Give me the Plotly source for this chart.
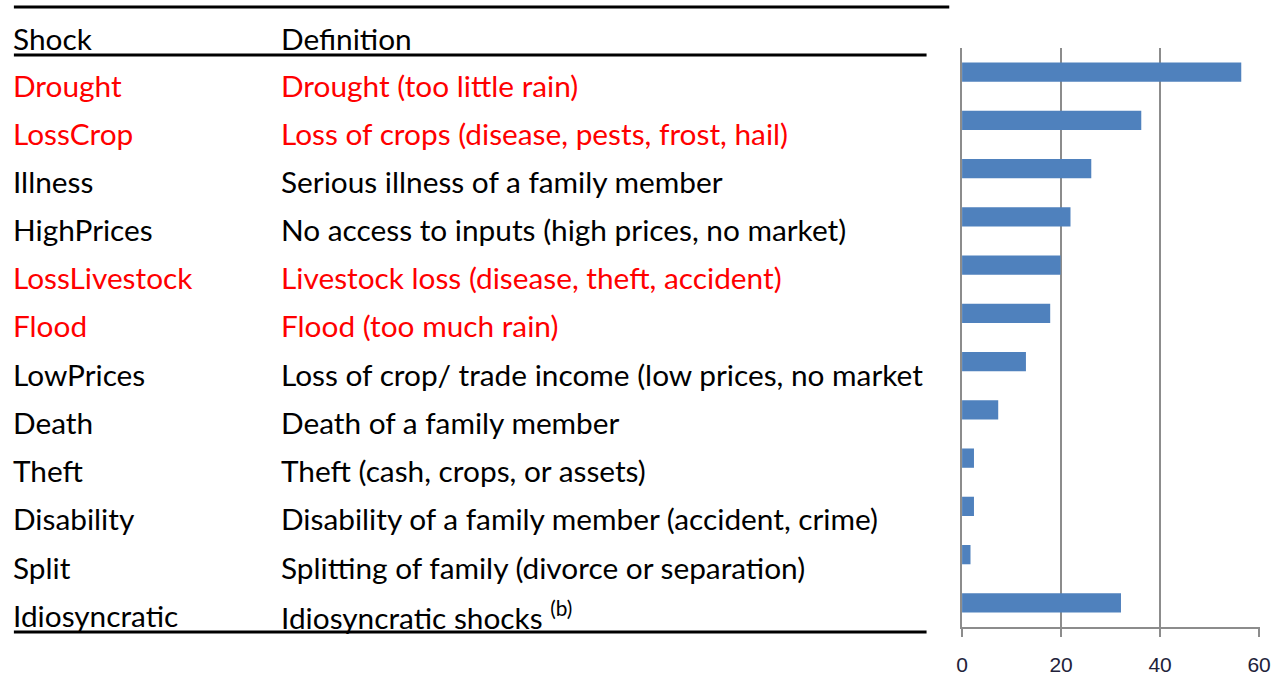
import plotly.graph_objects as go

W, H = 1276, 677

shocks = ["Drought", "LossCrop", "Illness", "HighPrices", "LossLivestock", "Flood",
          "LowPrices", "Death", "Theft", "Disability", "Split", "Idiosyncratic"]
definitions = [
    "Drought (too little rain)",
    "Loss of crops (disease, pests, frost, hail)",
    "Serious illness of a family member",
    "No access to inputs (high prices, no market)",
    "Livestock loss (disease, theft, accident)",
    "Flood (too much rain)",
    "Loss of crop/ trade income (low prices, no market",
    "Death of a family member",
    "Theft (cash, crops, or assets)",
    "Disability of a family member (accident, crime)",
    "Splitting of family (divorce or separation)",
    "Idiosyncratic shocks <sup>(b)</sup>",
]
highlight = [True, True, False, False, True, True, False, False, False, False, False, False]
values = [56.4, 36.2, 26.1, 21.9, 19.9, 17.8, 12.9, 7.3, 2.4, 2.4, 1.7, 32.1]
x_ticks = [0, 20, 40, 60]

def px(x):
    return x / W

def py(y):
    return 1 - y / H

FONT = "Lato"
FS = 29.8

fig = go.Figure()
fig.add_trace(go.Bar(
    y=shocks, x=values, orientation="h",
    marker=dict(color="#4F81BD", line=dict(width=0)),
    width=0.4,
    hoverinfo="x+y",
))

XS, XD = 5, 276.5
annotations = []
annotations.append(dict(x=px(XS), y=py(38), xref="paper", yref="paper", text="Shock",
                        showarrow=False, xanchor="left", yanchor="middle",
                        font=dict(family=FONT, size=FS, color="black")))
annotations.append(dict(x=px(XD), y=py(38), xref="paper", yref="paper", text="Definition",
                        showarrow=False, xanchor="left", yanchor="middle",
                        font=dict(family=FONT, size=FS, color="black")))
for i, (s, d, h) in enumerate(zip(shocks, definitions, highlight)):
    yc = 85 + i * 48.2
    col = "#FF0000" if h else "black"
    annotations.append(dict(x=px(XS), y=py(yc), xref="paper", yref="paper", text=s,
                            showarrow=False, xanchor="left", yanchor="middle",
                            font=dict(family=FONT, size=FS, color=col)))
    annotations.append(dict(x=px(XD), y=py(yc), xref="paper", yref="paper", text=d,
                            showarrow=False, xanchor="left", yanchor="middle",
                            font=dict(family=FONT, size=FS, color=col)))

shapes = [
    dict(type="line", xref="paper", yref="paper", x0=px(8), x1=px(956), y0=py(7), y1=py(7),
         line=dict(color="black", width=3)),
    dict(type="line", xref="paper", yref="paper", x0=px(8), x1=px(933), y0=py(55), y1=py(55),
         line=dict(color="black", width=3)),
    dict(type="line", xref="paper", yref="paper", x0=px(8), x1=px(933), y0=py(632), y1=py(632),
         line=dict(color="black", width=3)),
]

fig.update_layout(
    width=W, height=H,
    margin=dict(l=0, r=0, t=0, b=0),
    paper_bgcolor="white", plot_bgcolor="white",
    showlegend=False,
    annotations=annotations,
    shapes=shapes,
    xaxis=dict(domain=[px(969), px(1271)], range=[0, 60.2], tickvals=x_ticks,
               showgrid=True, gridcolor="#8C8C8C", gridwidth=2,
               zeroline=False, showline=True, linecolor="#8C8C8C", linewidth=2,
               ticks="outside", ticklen=8, tickcolor="#8C8C8C", tickwidth=2,
               ticklabelstandoff=10, ticklabeloverflow="allow",
               tickfont=dict(family="Liberation Sans", size=21, color="#22223A"),
               anchor="y"),
    yaxis=dict(domain=[py(627), py(48)], autorange="reversed", showticklabels=False,
               showgrid=False, zeroline=False, showline=True, linecolor="#8C8C8C",
               linewidth=2, ticks="", anchor="x"),
    bargap=0.6,
)

fig.write_html("out.html", config={"displayModeBar": False},
               post_script="document.body.style.margin='0';document.body.style.overflow='hidden';")
